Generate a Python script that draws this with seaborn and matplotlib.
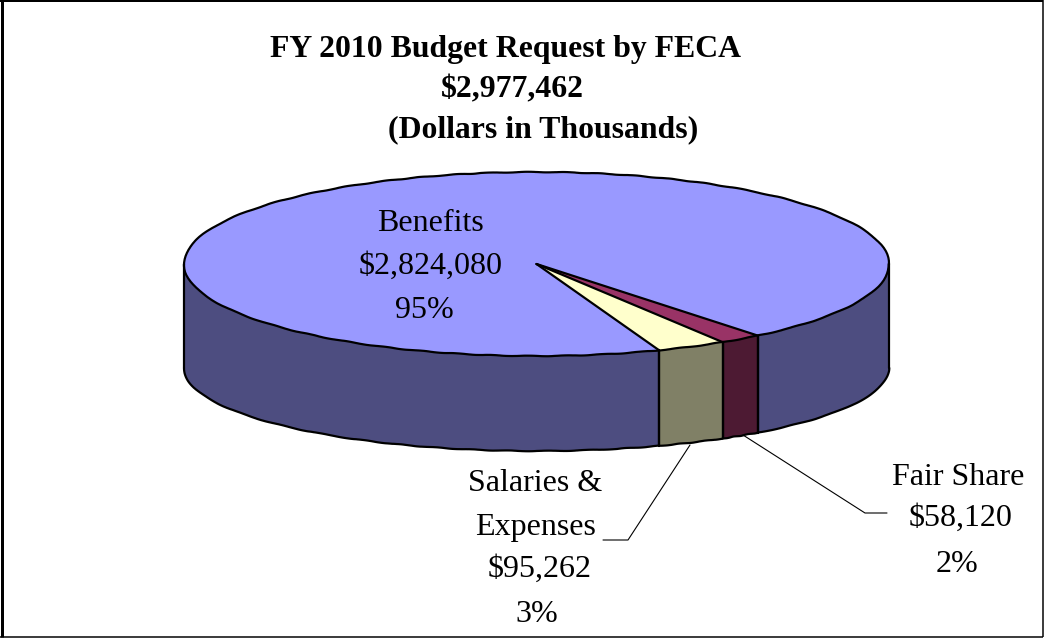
import numpy as np
import matplotlib
matplotlib.use("Agg")
import matplotlib.pyplot as plt
import seaborn as sns

# Budget figures (dollars in thousands)
categories = ["Benefits", "Salaries &\nExpenses", "Fair Share"]
amounts = [2824080, 95262, 58120]
percents = [95, 3, 2]
total_request = 2977462

top_colors = ["#9999FF", "#FFFFCC", "#993366"]
side_colors = ["#4D4D80", "#808066", "#4D1A33"]
START_ANGLE = -51.1

sns.set_theme(style="white")
plt.rcParams["font.family"] = ["Liberation Serif", "DejaVu Serif"]

W, H = 1046, 638
CX, CY, RX, RY = 536.5, 264.0, 352.5, 92.0   # top ellipse, in pixels
BOTTOM_CY, BOTTOM_RY = 368.0, 83.0           # lower rim of the disc
LW = 2.2 * 0.72
ROUGH = (0.3, 40, 2)                         # slightly uneven rim outline


def to_data(px, py):
    """Pixel position on the canvas to pie coordinates."""
    return (np.asarray(px, float) - CX) / RX, (CY - np.asarray(py, float)) / RY


fig = plt.figure(figsize=(W / 100, H / 100), dpi=100, facecolor="white")
ax = fig.add_axes([0, 0, 1, 1])

# Angular extent of each slice, in pie order
shares = np.array(amounts, float) / sum(amounts)
edges = START_ANGLE + 360 * np.concatenate([[0], np.cumsum(shares)])


def wall(a0, a1, color):
    """Side wall of the disc between two angles (degrees)."""
    t = np.radians(np.linspace(a0, a1, 90))
    x = np.cos(t)
    y_top = np.sin(t)
    y_bot = (CY - BOTTOM_CY + BOTTOM_RY * np.sin(t)) / RY
    ax.fill(np.r_[x, x[::-1]], np.r_[y_top, y_bot[::-1]], facecolor=color,
            edgecolor="none")
    ax.plot(x, y_bot, color="black", lw=LW)[0].set_sketch_params(*ROUGH)
    for side in (0, -1):
        ax.plot([x[side], x[side]], [y_top[side], y_bot[side]], color="black", lw=LW)


# Only the front half of the disc shows its wall
wall(START_ANGLE, 0, side_colors[0])
wall(180, edges[1], side_colors[0])
wall(edges[1], edges[2], side_colors[1])
wall(edges[2], edges[3], side_colors[2])

ax.pie(amounts, colors=top_colors, startangle=START_ANGLE, counterclock=True,
       radius=1, wedgeprops={"edgecolor": "none"})

# Slice outlines: straight radii plus an uneven rim
for angle in edges[:-1]:
    ax.plot([0, np.cos(np.radians(angle))], [0, np.sin(np.radians(angle))],
            color="black", lw=LW, zorder=3)
rim = np.radians(np.linspace(0, 360, 361))
ax.plot(np.cos(rim), np.sin(rim), color="black", lw=LW, zorder=3)[0].set_sketch_params(*ROUGH)

x0, y0 = to_data(0, H)
x1, y1 = to_data(W, 0)
ax.set_xlim(x0, x1)
ax.set_ylim(y0, y1)
ax.set_aspect("auto")


def label(px, py, text, **kw):
    x, y = to_data(px, py)
    ax.text(x, y, text, ha="center", va="center", color="black", **kw)


def leader(pxs, pys):
    x, y = to_data(pxs, pys)
    ax.plot(x, y, color="black", lw=0.8, solid_joinstyle="miter")


# Heading
heading = {"fontsize": 22.9, "fontweight": "bold"}
label(506, 50, "FY 2010 Budget Request by FECA", **heading)
label(512, 90, f"${total_request:,}", **heading)
label(543, 130, "(Dollars in Thousands)", **heading)

# Slice annotations
body = {"fontsize": 23}
label(430, 223, categories[0], **body)
label(431, 266, f"${amounts[0]:,}", **body)
label(424, 310, f"{percents[0]}%", **body)

first, second = categories[1].split("\n")
label(535, 483, first, **body)
label(535, 527, second, **body)
label(540, 569, f"${amounts[1]:,}", **body)
label(537, 614, f"{percents[1]}%", **body)

label(958, 477, categories[2], **body)
label(961, 518, f"${amounts[2]:,}", **body)
label(957, 564, f"{percents[2]}%", **body)

leader([690, 628, 603], [445, 540, 540])
leader([743, 865, 887], [435, 513, 513])

# Outer frame
for xs, ys, width in [([1.5, 1.5], [0, 637], 3), ([0, 1043], [1, 1], 2),
                      ([1042.5, 1042.5], [0, 637], 1.5), ([0, 1043], [636.5, 636.5], 1.5)]:
    fx, fy = to_data(xs, ys)
    ax.plot(fx, fy, color="black", lw=width * 0.72, solid_capstyle="butt")

fig.savefig("out.png", dpi=100, facecolor="white")
